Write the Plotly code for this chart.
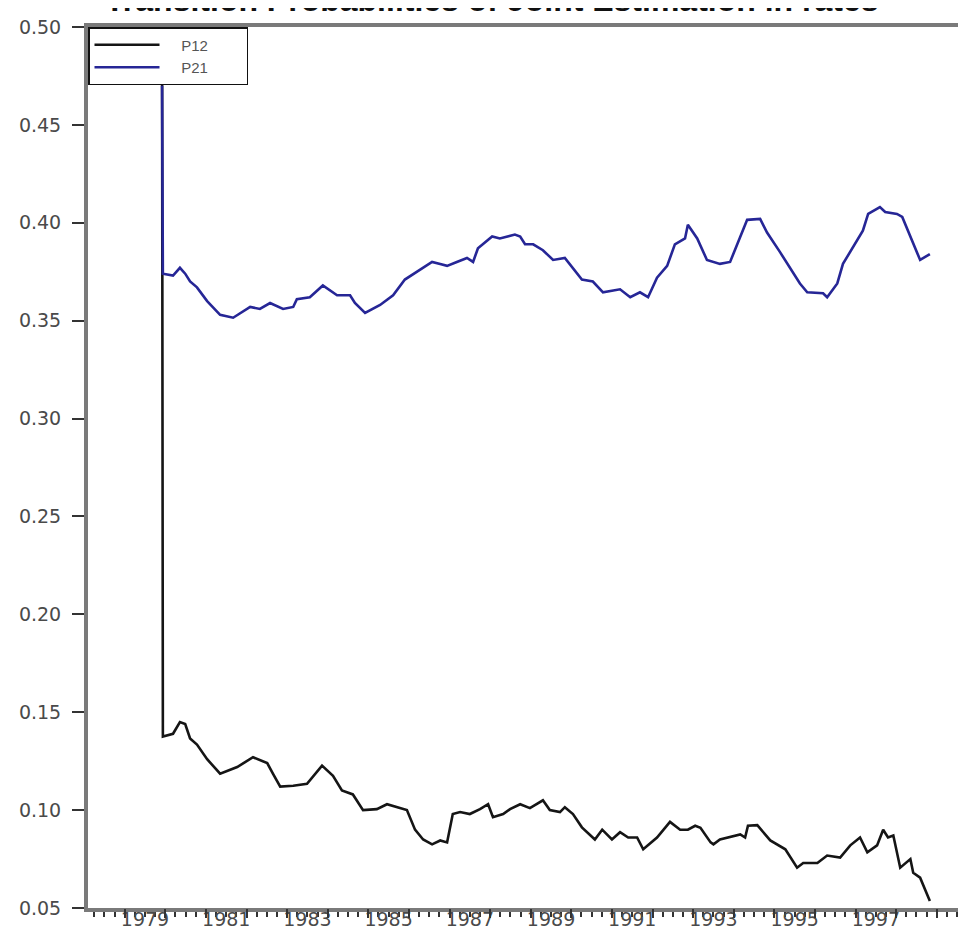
import plotly.graph_objects as go

# ---- data (decimal years) ----
p21_t = [1979.92, 1979.94, 1980.19, 1980.36, 1980.49, 1980.61, 1980.78, 1981.03, 1981.35, 1981.67,
         1982.09, 1982.33, 1982.58, 1982.90, 1983.15, 1983.24, 1983.56, 1983.88, 1984.23, 1984.55,
         1984.67, 1984.92, 1985.29, 1985.61, 1985.90, 1986.27, 1986.57, 1986.77, 1986.94, 1987.18,
         1987.43, 1987.58, 1987.70, 1988.05, 1988.24, 1988.61, 1988.74, 1988.86, 1989.06, 1989.30,
         1989.55, 1989.84, 1990.04, 1990.26, 1990.53, 1990.78, 1991.20, 1991.45, 1991.69, 1991.89,
         1992.11, 1992.36, 1992.55, 1992.80, 1992.87, 1993.10, 1993.34, 1993.66, 1993.91, 1994.08,
         1994.33, 1994.65, 1994.82, 1995.14, 1995.39, 1995.63, 1995.81, 1996.20, 1996.30, 1996.55,
         1996.69, 1996.99, 1997.18, 1997.31, 1997.60, 1997.73, 1998.02, 1998.15, 1998.42, 1998.59,
         1998.83]
p21_v = [0.470, 0.374, 0.373, 0.377, 0.374, 0.370, 0.367, 0.360, 0.353, 0.3515,
         0.357, 0.356, 0.359, 0.356, 0.357, 0.361, 0.362, 0.368, 0.363, 0.363,
         0.359, 0.354, 0.358, 0.363, 0.371, 0.376, 0.380, 0.379, 0.378, 0.380,
         0.382, 0.380, 0.387, 0.393, 0.392, 0.394, 0.393, 0.389, 0.389, 0.386,
         0.381, 0.382, 0.377, 0.371, 0.370, 0.3645, 0.366, 0.362, 0.3645, 0.362,
         0.372, 0.378, 0.389, 0.392, 0.399, 0.392, 0.381, 0.379, 0.380, 0.389,
         0.4015, 0.402, 0.395, 0.385, 0.377, 0.369, 0.3645, 0.364, 0.362, 0.369,
         0.379, 0.389, 0.396, 0.4045, 0.408, 0.4055, 0.4045, 0.403, 0.389, 0.381,
         0.384]

p12_t = [1979.92, 1979.94, 1980.19, 1980.36, 1980.49, 1980.61, 1980.78, 1981.03, 1981.35, 1981.77,
         1982.16, 1982.51, 1982.65, 1982.83, 1983.15, 1983.49, 1983.86, 1984.13, 1984.35, 1984.62,
         1984.87, 1985.21, 1985.46, 1985.95, 1986.15, 1986.35, 1986.57, 1986.77, 1986.94, 1987.08,
         1987.26, 1987.50, 1987.75, 1987.95, 1988.07, 1988.32, 1988.49, 1988.74, 1988.98, 1989.30,
         1989.47, 1989.72, 1989.84, 1990.04, 1990.26, 1990.58, 1990.76, 1991.00, 1991.20, 1991.40,
         1991.62, 1991.77, 1992.11, 1992.43, 1992.68, 1992.87, 1993.05, 1993.18, 1993.43, 1993.50,
         1993.66, 1994.16, 1994.28, 1994.35, 1994.58, 1994.90, 1995.27, 1995.56, 1995.71, 1996.06,
         1996.30, 1996.62, 1996.87, 1997.11, 1997.29, 1997.53, 1997.68, 1997.80, 1997.93, 1998.05,
         1998.10, 1998.35, 1998.42, 1998.59, 1998.83]
p12_v = [0.495, 0.1376, 0.139, 0.145, 0.144, 0.1366, 0.1335, 0.126, 0.1186, 0.122,
         0.127, 0.124, 0.1186, 0.112, 0.1124, 0.1134, 0.1227, 0.1175, 0.110, 0.108,
         0.100, 0.1005, 0.103, 0.100, 0.090, 0.085, 0.0825, 0.0845, 0.0835, 0.098,
         0.099, 0.098, 0.1005, 0.103, 0.0964, 0.098, 0.1005, 0.103, 0.101, 0.105,
         0.100, 0.099, 0.1015, 0.098, 0.0912, 0.085, 0.090, 0.085, 0.0887, 0.086,
         0.086, 0.080, 0.086, 0.094, 0.090, 0.090, 0.092, 0.091, 0.0835, 0.0825,
         0.085, 0.0876, 0.086, 0.092, 0.0923, 0.0845, 0.080, 0.0706, 0.073, 0.073,
         0.0768, 0.0758, 0.082, 0.086, 0.0784, 0.082, 0.090, 0.086, 0.087, 0.0758,
         0.0706, 0.075, 0.068, 0.0655, 0.0536]

year_labels = ["1979", "1981", "1983", "1985", "1987", "1989", "1991", "1993", "1995", "1997"]
label_pos = [int(s) + 0.5 for s in year_labels]          # labels centred in their year
year_ticks = list(range(1979, 2000))
quarter_ticks = [y + q / 4 for y in range(1978, 2000) for q in range(4)]
y_ticks = [0.05, 0.10, 0.15, 0.20, 0.25, 0.30, 0.35, 0.40, 0.45, 0.50]

title_text = "Transition Probabilities of Joint Estimation in rates"

AX = "#7a7a7a"
TICKFONT = dict(family="DejaVu Sans", size=19, color="#4a4a4a")
LEAD = "\u00a0" * 4    # spacing between legend sample and label
PAD = "\u00a0" * 8     # widens the legend box

fig = go.Figure()
fig.add_trace(go.Scatter(x=p12_t, y=p12_v, mode="lines", name=LEAD + "P12" + PAD,
                         line=dict(color="#151515", width=2.6)))
fig.add_trace(go.Scatter(x=p21_t, y=p21_v, mode="lines", name=LEAD + "P21" + PAD,
                         line=dict(color="#262696", width=2.6)))
# empty trace so that the overlay axis carrying the year ticks is drawn
fig.add_trace(go.Scatter(x=[], y=[], xaxis="x2", showlegend=False, hoverinfo="skip"))

# the page body has an 8px margin, so the figure is 8px smaller to fill the window
fig.update_layout(
    width=958, height=934,
    margin=dict(l=80, r=0, t=19, b=34),
    paper_bgcolor="white", plot_bgcolor="white",
    title=dict(text=f"<b>{title_text}</b>", x=0.505, xanchor="center",
               y=1.0, yref="paper", yanchor="bottom", pad=dict(b=16),
               font=dict(family="Liberation Sans", size=32, color="#111111")),
    showlegend=True,
    legend=dict(x=0, y=1, xanchor="left", yanchor="top",
                bgcolor="white", bordercolor="#111111", borderwidth=1.5,
                font=dict(family="Liberation Sans", size=15, color="#555555"),
                itemwidth=65, tracegroupgap=0),
    xaxis=dict(range=[1978.096, 1999.72], showgrid=False, zeroline=False,
               showline=True, linecolor=AX, linewidth=4, mirror=True,
               tickmode="array", tickvals=label_pos, ticktext=year_labels,
               ticks="outside", ticklen=5, tickwidth=1.5, tickcolor="#333333",
               tickfont=TICKFONT, ticklabelstandoff=-14,
               minor=dict(tickmode="array", tickvals=quarter_ticks, ticks="outside",
                          ticklen=5, tickwidth=1.5, tickcolor="#333333", showgrid=False)),
    xaxis2=dict(overlaying="x", matches="x", anchor="y", side="bottom",
                showgrid=False, zeroline=False, showline=False,
                tickmode="array", tickvals=year_ticks, ticktext=["" for _ in year_ticks],
                ticks="outside", ticklen=9, tickwidth=1.5, tickcolor="#333333"),
    yaxis=dict(range=[0.05, 0.50], showgrid=False, zeroline=False,
               showline=True, linecolor=AX, linewidth=4,
               tickmode="array", tickvals=y_ticks, ticktext=[f"{v:.2f}" for v in y_ticks],
               ticks="outside", ticklen=12, tickwidth=1.5, tickcolor="#333333",
               tickfont=TICKFONT, ticklabelstandoff=7),
)

fig.write_html("out.html")
